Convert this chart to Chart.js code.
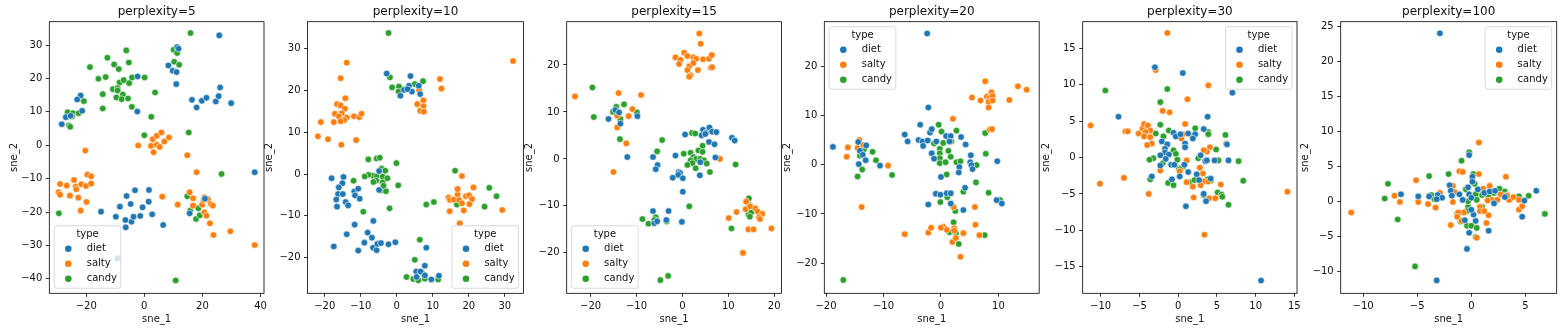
<!DOCTYPE html>
<html>
<head>
<meta charset="utf-8">
<script src="https://cdn.jsdelivr.net/npm/chart.js@4.4.1/dist/chart.umd.min.js"></script>
<style>
    html, body { margin: 0; padding: 0; background: #fff; }
    #wrap { position: relative; width: 1562px; height: 331px; overflow: hidden; }
    #wrap canvas { position: absolute; top: 0; }
</style>
</head>
<body>
<div id="wrap"></div>
<script>
// t-SNE embeddings (sne_1, sne_2) per perplexity, split by snack type
const types = ["diet", "salty", "candy"];
const perplexities = [5, 10, 15, 20, 30, 100];

const diet5 = [[25.8,32.9],[11.3,29.4],[11.8,28.9],[8.3,23.9],[9.8,22.3],[11.1,21.9],[11.0,18.3],[-2.3,20.6],[-2.4,10.1],[26.1,17.3],[16.4,13.6],[18.0,11.3],[19.8,13.3],[21.4,14.2],[24.6,13.1],[25.6,14.7],[29.9,12.6],[-21.9,14.9],[-23.1,13.7],[-21.4,10.3],[-27.0,8.4],[-28.4,6.3],[-25.4,8.8],[38.0,-8.1],[-14.9,-19.9],[-9.8,-21.4],[-8.4,-18.4],[-6.1,-15.2],[-3.2,-13.5],[-4.7,-17.6],[-6.5,-22.4],[-6.4,-24.6],[-4.4,-22.9],[-3.7,-21.4],[-1.4,-21.2],[-0.6,-18.6],[1.6,-13.4],[1.5,-16.9],[2.7,-20.7],[6.5,-23.9],[15.6,-20.4],[-9.2,-33.9],[20.9,-16.0]];
const salty5 = [[-2.1,-0.1],[2.9,1.8],[4.3,2.8],[5.9,3.8],[8.5,2.3],[2.3,-0.2],[4.3,0.1],[5.3,-0.5],[6.9,1.1],[3.2,-2.1],[14.8,-3.0],[18.0,-8.1],[-20.3,-1.6],[-29.0,-11.6],[-26.7,-12.1],[-24.2,-10.4],[-23.6,-12.4],[-23.4,-13.2],[-21.7,-11.7],[-20.1,-12.2],[-19.6,-8.8],[-18.3,-9.3],[-18.3,-11.5],[-29.5,-14.1],[-29.0,-14.8],[-25.6,-15.1],[-22.7,-15.7],[-19.9,-17.0],[-21.9,-19.6],[6.2,-15.4],[11.5,-17.8],[15.6,-14.1],[16.8,-15.9],[16.8,-18.1],[19.9,-17.8],[20.7,-15.6],[21.9,-16.2],[20.5,-16.4],[22.9,-17.6],[23.6,-18.1],[20.7,-20.1],[21.4,-21.1],[22.6,-23.4],[23.8,-26.9],[29.6,-25.8],[38.0,-29.9]];
const candy5 = [[15.9,33.6],[10.1,28.6],[11.3,27.6],[10.3,25.0],[12.0,24.1],[-6.2,28.4],[-12.7,26.2],[-10.4,24.2],[-5.3,24.8],[-18.7,23.4],[-8.8,22.8],[-15.8,19.9],[-13.3,20.4],[-8.5,18.8],[-7.1,19.5],[-5.2,18.6],[-4.2,20.3],[0.1,20.3],[-10.8,16.8],[-9.2,17.1],[-9.2,16.4],[-7.4,15.2],[-14.3,15.3],[-9.6,14.3],[-7.8,13.8],[-5.6,14.0],[3.7,15.8],[-14.3,11.0],[-4.3,11.5],[-20.8,13.2],[-26.4,9.9],[-24.6,9.6],[-22.6,9.6],[-24.9,8.6],[-25.9,5.9],[-25.5,5.5],[2.4,8.5],[0.0,3.0],[15.3,3.8],[26.6,-8.6],[-29.4,-20.4],[14.8,-15.3],[15.8,-19.6],[18.6,-18.9],[17.8,-22.1],[19.1,-21.0],[21.7,-16.2],[10.8,-40.5]];

const diet10 = [[-2.8,24.0],[3.8,23.4],[3.4,21.1],[6.1,21.1],[6.5,19.1],[2.0,20.1],[4.2,19.7],[1.0,18.7],[3.0,20.3],[-18.1,-1.0],[-14.8,-0.7],[-15.1,-2.2],[-16.1,-3.2],[-16.3,-4.8],[-15.0,-4.8],[-16.8,-6.1],[-16.6,-7.8],[-14.2,-6.7],[-13.5,-7.5],[-11.8,-4.2],[-11.6,-5.1],[-10.7,-3.5],[-10.3,-5.9],[-4.9,0.7],[-4.9,-3.8],[-6.5,-11.2],[-11.7,-12.1],[-13.9,-14.4],[-17.5,-17.3],[-10.7,-18.3],[-9.0,-16.4],[-8.1,-14.0],[-6.9,-15.2],[-6.6,-17.6],[-5.6,-18.2],[-5.4,-16.7],[-4.4,-16.5],[-2.3,-16.8],[-0.4,-16.3],[8.2,-17.6],[7.8,-21.9],[5.4,-23.3],[6.6,-23.3],[5.5,-24.6],[7.8,-24.2],[9.6,-25.2],[11.7,-24.3]];
const salty10 = [[-13.9,26.6],[-15.6,22.9],[-14.3,18.1],[-16.6,16.7],[-15.6,16.4],[-14.4,15.6],[-17.2,14.4],[-15.3,14.5],[-16.1,13.8],[-13.9,13.5],[-14.6,12.9],[-15.6,12.6],[-17.5,12.4],[-11.9,13.8],[-10.4,13.6],[-9.8,14.4],[-21.1,12.4],[-21.9,9.0],[-19.1,8.3],[-11.3,8.1],[-15.4,7.0],[12.0,22.7],[12.4,20.4],[6.2,20.1],[5.7,16.7],[7.4,17.6],[7.4,16.2],[6.5,15.1],[7.5,14.9],[32.3,27.0],[18.1,-0.5],[21.3,-3.2],[14.4,-5.6],[14.8,-6.2],[15.8,-6.1],[16.9,-4.9],[16.9,-3.6],[17.3,-6.2],[19.2,-5.3],[20.1,-5.1],[20.9,-6.0],[20.2,-7.2],[18.1,-7.0],[18.6,-8.7],[14.7,-8.9],[29.3,-8.6],[17.5,-11.8]];
const candy10 = [[-2.3,33.7],[-1.9,23.1],[0.6,20.9],[-1.3,20.7],[0.5,19.7],[5.0,21.5],[7.3,22.2],[3.0,20.4],[-0.1,2.6],[-7.9,3.5],[-5.6,3.7],[-4.7,3.9],[-4.2,1.3],[-3.2,0.8],[-6.6,-0.4],[-7.9,-0.2],[-8.9,-0.6],[-5.6,-0.6],[-5.7,-1.6],[-3.9,-0.6],[-3.9,-2.0],[-2.6,-1.0],[-6.5,-1.9],[-12.0,-1.6],[-4.3,-3.9],[-3.0,-4.1],[-3.7,-2.8],[0.4,-2.7],[-2.0,-8.2],[-9.3,-9.0],[16.2,0.8],[16.8,-3.5],[16.7,-7.3],[8.2,-7.3],[10.3,-6.7],[25.7,-3.3],[27.7,-5.3],[24.4,-7.8],[6.4,-15.7],[5.0,-20.5],[2.7,-24.6],[4.6,-25.1],[5.7,-25.0],[6.0,-25.4],[7.8,-25.0],[11.5,-25.2],[7.0,-23.6]];

const diet15 = [[-14.6,10.4],[-13.8,9.9],[-16.1,8.5],[-13.5,7.5],[-9.8,9.1],[-12.0,0.4],[-6.4,0.4],[-5.4,-1.3],[-5.8,-2.2],[-1.5,0.7],[0.6,5.2],[4.5,6.2],[5.2,5.6],[5.9,6.7],[4.2,5.0],[6.5,5.8],[7.4,5.7],[5.8,3.6],[7.0,3.1],[5.0,5.3],[10.8,4.5],[11.4,3.9],[7.2,0.3],[3.9,-0.7],[3.8,-3.5],[-0.8,-2.8],[-0.5,-3.0],[-0.9,-3.4],[-2.1,-4.0],[0.1,-4.1],[0.1,-7.0],[-0.1,-13.4],[-6.4,-11.1],[-3.0,-11.1],[-6.1,-13.7],[-5.5,-13.3],[-3.5,-13.0]];
const salty15 = [[3.7,26.7],[4.0,24.5],[-1.5,21.6],[0.4,22.6],[1.1,21.9],[2.4,21.6],[3.0,21.3],[4.5,21.2],[5.8,21.3],[6.4,22.1],[-0.4,21.1],[-0.7,20.2],[1.5,19.7],[2.4,20.4],[1.1,18.9],[3.4,18.9],[1.8,17.8],[1.5,17.5],[6.2,19.4],[6.5,19.5],[-23.4,13.3],[-13.9,14.0],[-9.0,13.6],[-10.9,10.6],[-14.2,9.2],[-11.7,9.1],[-14.2,6.7],[-12.2,3.3],[-15.0,-2.8],[8.2,0.0],[13.9,-9.1],[13.8,-10.7],[14.8,-10.1],[15.9,-10.5],[16.4,-11.2],[17.4,-11.7],[16.7,-12.4],[16.9,-12.8],[11.8,-11.3],[10.1,-12.6],[14.4,-15.0],[15.5,-15.0],[19.4,-14.8],[13.2,-20.0]];
const candy15 = [[-19.6,15.2],[-19.3,8.9],[-14.4,11.1],[-12.7,11.6],[-15.1,10.0],[-9.9,9.9],[-13.5,8.5],[-13.6,4.2],[-4.4,4.0],[-5.5,1.6],[0.3,1.1],[2.1,5.5],[2.8,5.4],[4.4,2.8],[3.5,1.8],[1.8,1.3],[2.4,0.4],[3.0,0.0],[3.9,0.0],[1.8,-0.3],[4.7,-0.3],[4.4,1.5],[2.2,-0.9],[1.1,-1.3],[2.9,-2.0],[5.3,-1.0],[6.0,-2.8],[11.6,-1.2],[1.5,-10.1],[-8.7,-12.8],[-7.4,-13.8],[-5.8,-12.4],[-6.1,-13.0],[-3.4,-13.3],[10.7,-14.8],[14.5,-8.4],[14.5,-9.8],[14.4,-11.8],[15.0,-11.4],[14.7,-12.3],[-3.1,-24.9],[-4.8,-25.8]];

const diet20 = [[-2.4,26.6],[-2.2,11.6],[-18.8,3.6],[-6.3,6.1],[-5.8,4.7],[-3.6,8.1],[-3.9,5.0],[-3.2,4.7],[-3.1,3.8],[-2.3,4.9],[-1.9,6.5],[-1.6,7.2],[-0.8,4.7],[-1.6,2.3],[-1.2,1.2],[0.9,5.8],[1.7,5.8],[1.5,4.7],[3.5,5.6],[4.3,4.1],[0.0,-2.5],[3.2,-0.5],[3.1,-1.6],[5.2,1.9],[5.1,0.5],[5.3,-0.1],[5.5,-0.9],[9.8,0.7],[-14.4,4.6],[-13.0,3.9],[-14.1,2.8],[-13.6,2.0],[-13.1,0.9],[-14.3,0.1],[-10.6,-0.2],[-0.9,-5.9],[-0.1,-6.1],[1.0,-5.8],[1.7,-5.8],[-2.2,-8.1],[1.7,-7.9],[4.2,-4.7],[3.9,-9.2],[9.7,-7.2],[10.6,-7.9]];
const salty20 = [[-16.2,3.5],[-16.4,1.6],[-14.2,5.0],[-14.5,3.4],[-13.5,4.0],[-9.2,-0.2],[-13.8,-8.6],[-6.3,-14.1],[-2.2,-13.8],[2.1,9.3],[7.7,16.9],[5.4,13.6],[6.9,13.0],[8.0,13.8],[8.8,14.7],[8.5,13.6],[9.0,13.9],[8.3,12.7],[8.3,11.6],[9.0,13.0],[13.4,15.9],[14.9,15.2],[11.9,13.1],[8.5,7.1],[8.9,7.2],[5.9,-8.6],[6.0,-12.2],[6.7,-14.3],[-1.7,-12.8],[0.4,-12.6],[1.0,-13.2],[2.3,-12.9],[2.3,-13.4],[3.9,-13.9],[2.0,-15.7],[2.6,-14.9],[3.4,-18.7],[2.2,-8.6],[0.0,-12.8]];
const candy20 = [[-0.4,8.1],[0.1,6.7],[2.7,6.9],[-1.2,4.3],[0.4,4.4],[1.4,4.8],[1.8,4.7],[-0.2,3.2],[-0.2,2.3],[1.3,2.8],[-0.2,1.3],[-0.2,0.3],[1.7,1.6],[0.8,0.5],[2.7,0.5],[3.4,0.7],[1.0,-2.0],[6.2,-0.1],[7.7,6.4],[7.8,2.2],[6.1,-3.6],[8.3,-5.7],[3.9,-5.5],[1.7,-5.9],[1.1,-6.6],[-0.1,-7.6],[2.5,-9.4],[2.2,-11.7],[2.6,-13.9],[1.5,-13.7],[3.1,-16.1],[7.6,-14.3],[10.2,-7.2],[10.3,-7.2],[-14.1,1.8],[-14.5,-2.4],[-13.7,-1.0],[-13.4,3.1],[-11.9,2.6],[-11.3,0.9],[-8.5,-2.1],[-17.0,-23.4]];

const diet30 = [[-3.0,12.4],[0.6,11.6],[7.0,8.9],[-7.7,5.6],[3.8,5.6],[3.3,3.9],[-0.6,3.4],[-0.3,2.9],[0.3,3.2],[1.3,3.3],[0.9,1.9],[0.9,1.4],[2.2,3.2],[1.9,2.6],[-2.1,2.2],[-1.4,1.8],[-1.7,1.2],[-1.7,0.7],[-1.2,0.4],[-2.3,0.3],[-1.6,-0.2],[-2.3,-1.1],[-3.4,-2.6],[-0.9,-1.0],[-0.5,-1.0],[0.2,-2.6],[0.8,-1.0],[1.3,-2.0],[2.4,-2.3],[2.7,-3.1],[3.5,-0.5],[3.7,-0.4],[2.9,0.3],[4.7,-0.4],[6.5,-0.4],[6.3,1.8],[-0.8,-3.0],[3.3,-5.0],[3.6,-6.0],[1.0,-6.7],[10.7,-16.9],[4.2,-2.9]];
const salty30 = [[-1.4,17.1],[-2.9,12.0],[3.9,9.9],[1.2,8.0],[-2.0,6.4],[-1.1,6.2],[-11.3,4.4],[-6.8,3.6],[-6.5,3.6],[-5.1,3.3],[-4.6,4.0],[-4.4,4.6],[-3.9,4.4],[-3.6,3.7],[-4.2,3.5],[-4.4,2.9],[-3.6,2.8],[-3.4,1.9],[-4.0,1.7],[0.9,4.6],[0.6,3.2],[0.4,2.6],[1.8,2.9],[4.1,1.4],[3.7,0.8],[3.3,1.0],[6.2,1.9],[1.1,-0.4],[-2.3,-1.8],[0.2,-1.9],[2.8,-1.4],[-10.1,-3.6],[-7.0,-2.8],[-3.8,-5.0],[1.1,-3.4],[3.2,-2.2],[3.3,-3.3],[3.9,-3.3],[1.9,-4.0],[2.9,-3.8],[2.0,-5.5],[4.0,-5.6],[4.8,-5.6],[5.5,-3.7],[3.4,-10.6],[14.1,-4.7]];
const candy30 = [[-9.4,9.2],[-1.4,9.4],[-2.3,7.6],[-2.3,4.5],[-2.9,3.3],[-1.9,2.9],[-1.2,3.7],[2.2,4.0],[3.9,3.5],[3.9,3.2],[6.1,3.1],[4.9,1.1],[-0.6,1.0],[-0.3,0.5],[-3.2,-0.1],[-3.7,-0.3],[-2.0,-0.8],[-0.1,-0.3],[2.6,-0.1],[5.2,-0.4],[7.8,-0.5],[0.1,-1.5],[0.6,-1.3],[-3.6,-3.0],[-1.3,-3.5],[-0.6,-3.8],[1.5,-3.4],[2.1,-3.1],[2.9,-3.6],[4.2,-3.2],[3.8,-3.0],[5.1,-4.8],[5.6,-5.1],[5.7,-5.4],[6.5,-6.5],[8.4,-3.2],[3.3,-5.2],[0.3,-1.6]];

const diet100 = [[-2.9,24.0],[-0.2,6.6],[-3.2,-11.3],[-0.4,-6.8],[-0.2,-4.5],[0.4,-2.8],[1.6,-4.2],[4.7,-2.2],[0.2,-1.9],[0.0,-1.2],[-6.5,1.0],[-4.9,0.7],[-3.9,0.7],[-3.1,0.9],[-2.7,0.5],[-3.2,0.3],[-2.0,2.3],[-1.9,1.5],[-1.8,0.8],[-1.1,1.0],[-0.8,0.2],[-0.3,2.0],[0.1,3.5],[-0.2,1.0],[0.0,0.5],[0.6,1.7],[1.2,1.2],[1.7,1.4],[2.2,1.5],[2.1,-0.3],[3.1,0.6],[4.9,0.1],[6.0,1.5],[-0.6,-2.7],[0.1,2.8]];
const salty100 = [[0.7,8.4],[0.7,3.9],[3.2,3.5],[-1.1,4.3],[-0.8,4.2],[-5.1,3.0],[-1.7,2.2],[1.7,2.2],[-1.5,1.3],[1.1,1.8],[-7.1,0.8],[-6.6,-0.1],[-4.9,-0.1],[-4.0,-0.4],[-3.3,-0.9],[-2.9,1.2],[-1.7,-0.1],[-0.8,0.2],[-0.7,-1.6],[-1.2,-1.6],[-1.3,-2.2],[-0.9,-2.8],[0.8,-0.8],[0.8,-1.4],[1.2,-1.4],[1.6,-2.0],[1.4,-3.1],[-1.9,-3.4],[0.5,-5.2],[-11.1,-1.6],[1.9,0.2],[2.7,1.0],[2.4,0.2],[3.5,0.2],[3.9,0.6],[4.4,0.2],[4.4,-1.2],[4.7,-0.7],[3.3,0.8],[1.5,0.1]];
const candy100 = [[-0.2,7.0],[-0.9,5.8],[0.2,3.9],[0.3,2.5],[-2.1,3.9],[-3.9,3.6],[-7.7,2.5],[-8.0,0.4],[-6.8,-2.6],[-5.2,-9.3],[-3.7,0.9],[-3.4,0.3],[-0.5,1.7],[0.4,1.0],[1.0,0.9],[1.6,0.6],[2.1,1.2],[2.6,1.8],[3.1,1.4],[3.3,0.9],[3.6,0.3],[4.4,0.7],[5.3,0.8],[6.8,-1.8],[0.5,0.2],[1.0,-0.8],[-0.3,-0.8],[-0.4,-1.4],[-1.3,-1.9],[-1.0,-2.9],[-0.6,-2.7],[-0.4,-3.5],[0.0,-3.5],[0.5,-3.8],[0.4,-5.1],[-0.3,0.0],[-1.3,-1.7]];

// tick values for each panel
const xTicks5 = [-20, 0, 20, 40];
const yTicks5 = [-40, -30, -20, -10, 0, 10, 20, 30];
const xTicks10 = [-20, -10, 0, 10, 20, 30];
const yTicks10 = [-20, -10, 0, 10, 20, 30];
const xTicks15 = [-20, -10, 0, 10, 20];
const yTicks15 = [-20, -10, 0, 10, 20];
const xTicks20 = [-20, -10, 0, 10];
const yTicks20 = [-20, -10, 0, 10, 20];
const xTicks30 = [-10, -5, 0, 5, 10, 15];
const yTicks30 = [-15, -10, -5, 0, 5, 10, 15];
const xTicks100 = [-10, -5, 0, 5];
const yTicks100 = [-10, -5, 0, 5, 10, 15, 20, 25];

const colors = ["#1f77b4", "#ff7f0e", "#2ca02c"];
const FONT = "'DejaVu Sans', 'Liberation Sans', sans-serif";
const TEXT = "#111";

// axes boxes (left/right in page px), limits, legend corner, y-label gap
const panels = [
    { series: [diet5, salty5, candy5], xTicks: xTicks5, yTicks: yTicks5, left: 49.3, right: 264.0, x: [-32.7, 41.2], y: [-44.35, 37.0], legend: "lower left", gap: 35 },
    { series: [diet10, salty10, candy10], xTicks: xTicks10, yTicks: yTicks10, left: 307.5, right: 523.5, x: [-24.8, 35.2], y: [-28.5, 36.4], legend: "lower right", gap: 37.7 },
    { series: [diet15, salty15, candy15], xTicks: xTicks15, yTicks: yTicks15, left: 566.7, right: 781.5, x: [-25.2, 21.6], y: [-28.6, 29.2], legend: "lower left", gap: 37.4 },
    { series: [diet20, salty20, candy20], xTicks: xTicks20, yTicks: yTicks20, left: 824.3, right: 1039.2, x: [-20.3, 17.1], y: [-26.1, 29.0], legend: "upper left", gap: 37 },
    { series: [diet30, salty30, candy30], xTicks: xTicks30, yTicks: yTicks30, left: 1082.7, right: 1297.0, x: [-12.32, 15.34], y: [-18.65, 18.65], legend: "upper right", gap: 36 },
    { series: [diet100, salty100, candy100], xTicks: xTicks100, yTicks: yTicks100, left: 1340.7, right: 1556.7, x: [-12.07, 7.89], y: [-13.14, 25.66], legend: "upper right", gap: 35.7 },
];

const TOP = 21.7, HEIGHT = 331, X_AXIS_H = 37.7, Y_AXIS_W = 45;

const fmt = (v) => String(v).replace("-", "\u2212");

// axes frame (all four spines)
const framePlugin = {
    id: "frame",
    afterDatasetsDraw(chart) {
        const { ctx, chartArea: a } = chart;
        ctx.save();
        ctx.strokeStyle = "#000";
        ctx.lineWidth = 0.8;
        ctx.strokeRect(a.left, a.top, a.right - a.left, a.bottom - a.top);
        ctx.restore();
    },
};

// title centred over the axes
const titlePlugin = {
    id: "axTitle",
    afterDraw(chart, args, opts) {
        const { ctx, chartArea: a } = chart;
        ctx.save();
        ctx.font = "12px " + FONT;
        ctx.fillStyle = TEXT;
        ctx.textAlign = "center";
        ctx.textBaseline = "middle";
        ctx.fillText(opts.text, (a.left + a.right) / 2, 11.7);
        ctx.restore();
    },
};

// "type" legend box inside the axes
const legendPlugin = {
    id: "typeLegend",
    afterDraw(chart, args, opts) {
        const { ctx, chartArea: a } = chart;
        const w = 66.5, h = 62.6, m = 5;
        const x = opts.corner.includes("left") ? a.left + m : a.right - m - w;
        const y = opts.corner.includes("upper") ? a.top + m : a.bottom - m - h;
        ctx.save();
        ctx.beginPath();
        ctx.roundRect(x, y, w, h, 2.5);
        ctx.fillStyle = "rgba(255,255,255,0.8)";
        ctx.fill();
        ctx.strokeStyle = "#d0d0d0";
        ctx.lineWidth = 0.8;
        ctx.stroke();
        ctx.font = "10px " + FONT;
        ctx.fillStyle = TEXT;
        ctx.textBaseline = "middle";
        ctx.textAlign = "center";
        ctx.fillText("type", x + w / 2, y + 8.3);
        ctx.textAlign = "left";
        types.forEach((t, i) => {
            const cy = y + 23 + i * 15;
            ctx.beginPath();
            ctx.arc(x + 14, cy, 3.3, 0, Math.PI * 2);
            ctx.fillStyle = colors[i];
            ctx.fill();
            ctx.fillStyle = TEXT;
            ctx.fillText(t, x + 32.4, cy);
        });
        ctx.restore();
    },
};

const wrap = document.getElementById("wrap");

panels.forEach((p, idx) => {
    const canvasLeft = Math.floor(p.left) - 52;
    const canvasRight = Math.ceil(p.right) + 10;
    const canvas = document.createElement("canvas");
    canvas.width = canvasRight - canvasLeft;
    canvas.height = HEIGHT;
    canvas.style.left = canvasLeft + "px";
    canvas.style.width = canvas.width + "px";
    canvas.style.height = HEIGHT + "px";
    wrap.appendChild(canvas);

    const datasets = p.series.map((pts, i) => ({
        label: types[i],
        data: pts.map(([x, y]) => ({ x, y })),
        backgroundColor: colors[i],
        borderColor: "#fff",
        borderWidth: 0.6,
        pointRadius: 3.3,
        pointHoverRadius: 3.3,
        clip: 0,
    }));

    const tickGrid = {
        display: true,
        drawOnChartArea: false,
        drawTicks: true,
        tickLength: 3.5,
        color: "#000",
        lineWidth: 0.8,
    };

    new Chart(canvas, {
        type: "scatter",
        data: { datasets },
        options: {
            responsive: false,
            animation: false,
            devicePixelRatio: 1,
            events: [],
            layout: {
                padding: {
                    left: p.left - Y_AXIS_W - canvasLeft,
                    right: canvasRight - p.right,
                    top: TOP,
                    bottom: 0,
                },
            },
            scales: {
                x: {
                    type: "linear",
                    min: p.x[0],
                    max: p.x[1],
                    afterBuildTicks: (s) => { s.ticks = p.xTicks.map((v) => ({ value: v })); },
                    afterFit: (s) => { s.height = X_AXIS_H; },
                    grid: tickGrid,
                    border: { display: false },
                    ticks: { callback: fmt, padding: 3.5, maxRotation: 0, font: { family: FONT, size: 10 }, color: TEXT },
                    title: { display: true, text: "sne_1", font: { family: FONT, size: 10 }, color: TEXT, padding: { top: 0, bottom: 5.7 } },
                },
                y: {
                    type: "linear",
                    min: p.y[0],
                    max: p.y[1],
                    afterBuildTicks: (s) => { s.ticks = p.yTicks.map((v) => ({ value: v })); },
                    afterFit: (s) => { s.width = Y_AXIS_W; },
                    grid: tickGrid,
                    border: { display: false },
                    ticks: { callback: fmt, padding: 3.5, font: { family: FONT, size: 10 }, color: TEXT },
                    title: { display: true, text: "sne_2", font: { family: FONT, size: 10 }, color: TEXT, padding: { top: Y_AXIS_W - p.gap - 6, bottom: 0 } },
                },
            },
            plugins: {
                legend: { display: false },
                tooltip: { enabled: false },
                axTitle: { text: "perplexity=" + perplexities[idx] },
                typeLegend: { corner: p.legend },
            },
        },
        plugins: [framePlugin, titlePlugin, legendPlugin],
    });
});
</script>
</body>
</html>
